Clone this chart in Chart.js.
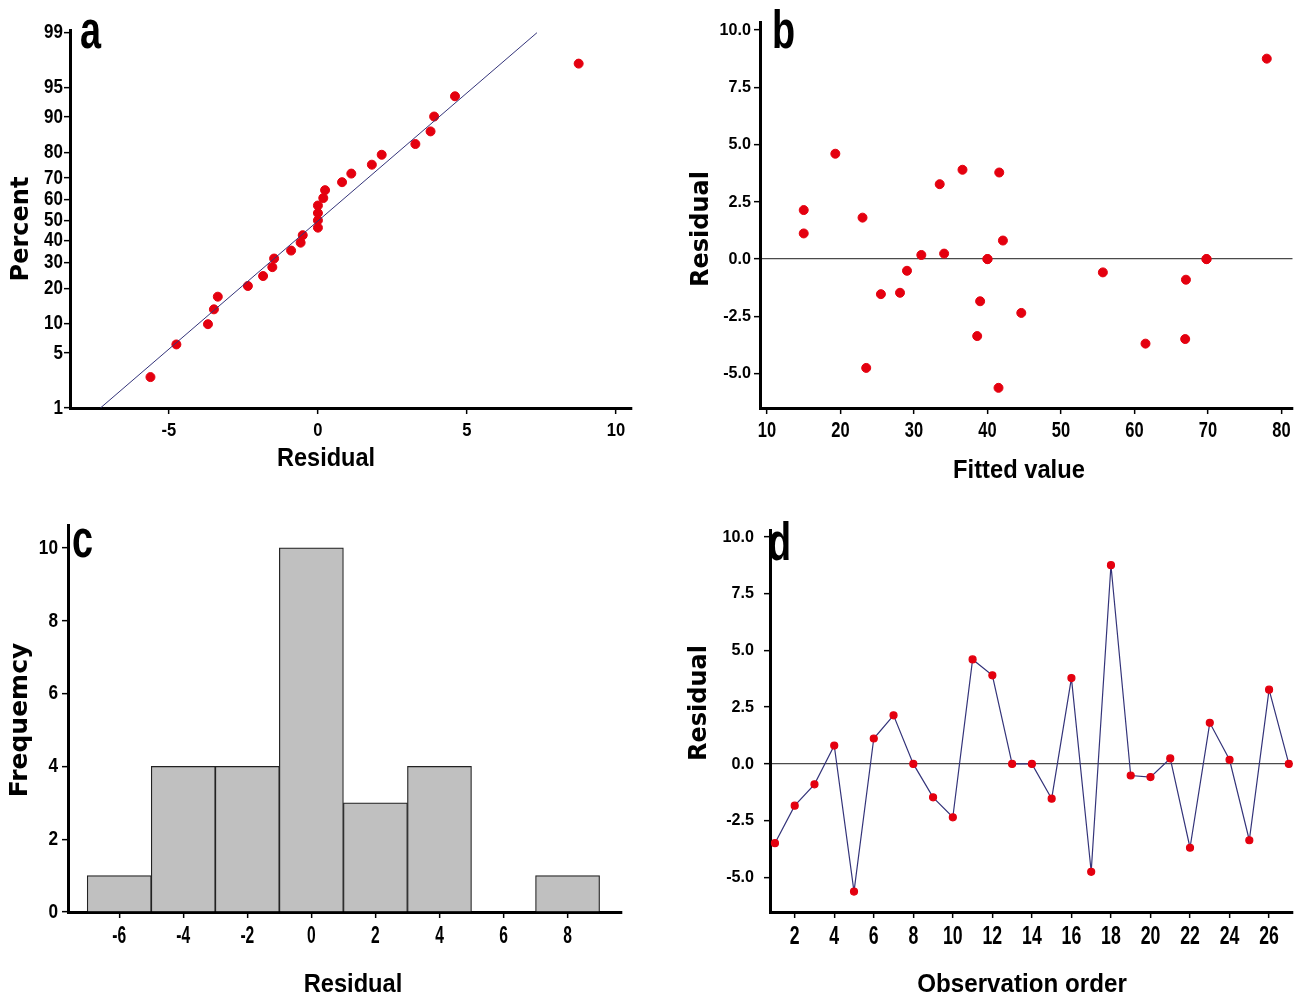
<!DOCTYPE html>
<html>
<head>
<meta charset="utf-8">
<title>Residual plots</title>
<script src="https://cdn.jsdelivr.net/npm/chart.js@4.4.0/dist/chart.umd.min.js"></script>
<style>
  body { margin: 0; background: #fff; }
  canvas { position: absolute; }
</style>
</head>
<body>
<canvas id="chartA" width="660" height="490" style="left:0;top:0"></canvas>
<canvas id="chartB" width="618" height="490" style="left:680px;top:0"></canvas>
<canvas id="chartC" width="660" height="498" style="left:0;top:500px"></canvas>
<canvas id="chartD" width="618" height="488" style="left:680px;top:510px"></canvas>
<script>
// residuals in run order, with the fitted value of each run
const observation = [1, 2, 3, 4, 5, 6, 7, 8, 9, 10, 11, 12, 13, 14, 15, 16, 17, 18, 19, 20, 21, 22, 23, 24, 25, 26, 27];
const residuals = [-3.49, -1.84, -0.9, 0.81, -5.62, 1.12, 2.14, 0.0, -1.47, -2.35, 4.6, 3.9, 0.0, 0.0, -1.53,
  3.78, -4.75, 8.75, -0.51, -0.58, 0.24, -3.69, 1.81, 0.18, -3.36, 3.27, 0.0];
const fittedValues = [66.9, 39.0, 67.0, 42.1, 41.5, 15.0, 15.0, 40.0, 28.1, 44.6, 19.3, 36.6, 40.0, 69.8, 25.5,
  41.6, 23.5, 78.0, 29.05, 55.7, 34.1, 61.5, 23.0, 31.0, 38.6, 33.5, 69.8];

// normal probability plot positions (percent) for the sorted residuals
const probPercent = [2.6, 6.2, 9.9, 13.5, 17.2, 20.8, 24.5, 28.1, 31.8, 35.4, 39.1, 42.7, 46.4, 50.0, 53.6,
  57.3, 60.9, 64.6, 68.2, 71.9, 75.5, 79.2, 82.8, 86.5, 90.1, 93.8, 97.4];
const fitLineX = [-7.3, 7.35];
const fitLinePercent = [1, 99];
const percentTicks = [1, 5, 10, 20, 30, 40, 50, 60, 70, 80, 90, 95, 99];

// histogram of residuals
const binCenters = [-6, -4, -2, 0, 2, 4, 6, 8];
const binCounts = [1, 4, 4, 10, 3, 4, 0, 1];

const residualTicksA = [-5, 0, 5, 10];
const fittedTicks = [10, 20, 30, 40, 50, 60, 70, 80];
const residualTicksB = [-5, -2.5, 0, 2.5, 5, 7.5, 10];
const histTicksX = [-6, -4, -2, 0, 2, 4, 6, 8];
const histTicksY = [0, 2, 4, 6, 8, 10];
const orderTicks = [2, 4, 6, 8, 10, 12, 14, 16, 18, 20, 22, 24, 26];

const SANS = "'Liberation Sans', Arial, sans-serif";
const WIDE = "'DejaVu Sans', Verdana, sans-serif";
const RED = '#e4000f';
const NAVY = '#34347a';

// inverse of the standard normal CDF (Acklam)
function normInv(p) {
  const a = [-3.969683028665376e+01, 2.209460984245205e+02, -2.759285104469687e+02, 1.383577518672690e+02, -3.066479806614716e+01, 2.506628277459239e+00];
  const b = [-5.447609879822406e+01, 1.615858368580409e+02, -1.556989798598866e+02, 6.680131188771972e+01, -1.328068155288572e+01];
  const c = [-7.784894002430293e-03, -3.223964580411365e-01, -2.400758277161838e+00, -2.549732539343734e+00, 4.374664141464968e+00, 2.938163982698783e+00];
  const d = [7.784695709041462e-03, 3.224671290700398e-01, 2.445134137142996e+00, 3.754408661907416e+00];
  const pl = 0.02425;
  if (p < pl) {
    const q = Math.sqrt(-2 * Math.log(p));
    return (((((c[0] * q + c[1]) * q + c[2]) * q + c[3]) * q + c[4]) * q + c[5]) / ((((d[0] * q + d[1]) * q + d[2]) * q + d[3]) * q + 1);
  }
  if (p > 1 - pl) {
    const q = Math.sqrt(-2 * Math.log(1 - p));
    return -(((((c[0] * q + c[1]) * q + c[2]) * q + c[3]) * q + c[4]) * q + c[5]) / ((((d[0] * q + d[1]) * q + d[2]) * q + d[3]) * q + 1);
  }
  const q = p - 0.5, r = q * q;
  return (((((a[0] * r + a[1]) * r + a[2]) * r + a[3]) * r + a[4]) * r + a[5]) * q /
    (((((b[0] * r + b[1]) * r + b[2]) * r + b[3]) * r + b[4]) * r + 1);
}

// axis with fixed ticks and fixed thickness; labels are drawn by the axisText plugin
function axis(o) {
  return {
    type: 'linear',
    min: o.min,
    max: o.max,
    offset: false,
    afterBuildTicks: s => { s.ticks = o.ticks.map(v => ({ value: v })); },
    afterFit: s => { if (s.isHorizontal()) s.height = o.size; else s.width = o.size; },
    border: { display: true, color: '#000', width: 3 },
    grid: {
      offset: false,
      drawOnChartArea: !!o.zeroLine,
      color: ctx => (o.zeroLine && ctx.tick && ctx.tick.value === 0) ? '#4a4a4a' : 'rgba(0,0,0,0)',
      lineWidth: 1.3,
      tickColor: '#000',
      tickWidth: 1.5,
      tickLength: 6
    },
    ticks: { display: false, autoSkip: false },
    title: { display: false }
  };
}

function drawText(ctx, text, x, y, font, sx, align, rot) {
  ctx.save();
  ctx.translate(x, y);
  if (rot) ctx.rotate(rot);
  ctx.scale(sx, 1);
  ctx.font = font;
  ctx.textAlign = align;
  ctx.fillText(text, 0, 0);
  ctx.restore();
}

// tick labels, axis titles and the panel letter, set in a narrow bold face
const axisText = {
  id: 'axisText',
  afterDraw(chart, args, o) {
    const ctx = chart.ctx;
    ctx.save();
    ctx.fillStyle = '#000';
    ctx.textBaseline = 'middle';
    const xs = chart.scales.x, ys = chart.scales.y;
    const xf = 'bold ' + o.xTicks.size + 'px ' + SANS;
    xs.ticks.forEach((t, i) => {
      drawText(ctx, o.xTicks.fmt(t.value, i), xs.getPixelForValue(t.value), o.xTicks.y, xf, o.xTicks.sx, 'center');
    });
    const yf = 'bold ' + o.yTicks.size + 'px ' + SANS;
    ys.ticks.forEach((t, i) => {
      drawText(ctx, o.yTicks.fmt(t.value, i), o.yTicks.right, ys.getPixelForValue(t.value), yf, o.yTicks.sx, 'right');
    });
    drawText(ctx, o.xTitle.text, o.xTitle.x, o.xTitle.y, 'bold ' + o.xTitle.size + 'px ' + SANS, o.xTitle.sx, 'center');
    drawText(ctx, o.yTitle.text, o.yTitle.x, o.yTitle.y, 'bold ' + o.yTitle.size + 'px ' + WIDE, 1, 'center', -Math.PI / 2);
    ctx.textBaseline = 'alphabetic';
    drawText(ctx, o.letter.text, o.letter.x, o.letter.y, 'bold 54px ' + SANS, 0.7, 'left');
    ctx.restore();
  }
};

const plain = v => String(v);
const oneDecimal = v => v.toFixed(1);

function baseOptions(pad, text) {
  return {
    responsive: false,
    animation: false,
    layout: { padding: pad },
    plugins: {
      legend: { display: false },
      tooltip: { enabled: false },
      axisText: text
    }
  };
}

// a: normal probability plot
const sortedResiduals = residuals.slice().sort((p, q) => p - q);
new Chart(document.getElementById('chartA'), {
  type: 'scatter',
  data: {
    datasets: [
      {
        type: 'line',
        data: fitLineX.map((x, i) => ({ x: x, y: normInv(fitLinePercent[i] / 100) })),
        borderColor: NAVY,
        borderWidth: 1,
        pointRadius: 0
      },
      {
        data: sortedResiduals.map((x, i) => ({ x: x, y: normInv(probPercent[i] / 100) })),
        backgroundColor: RED,
        borderColor: RED,
        pointRadius: 4.5
      }
    ]
  },
  options: Object.assign(baseOptions({ left: 0, top: 30, right: 28, bottom: 0 }, {
    xTicks: { y: 431, size: 18, sx: 0.92, fmt: plain },
    yTicks: { right: 63, size: 20, sx: 0.85, fmt: (v, i) => String(percentTicks[i]) },
    xTitle: { text: 'Residual', x: 326, y: 459, size: 25, sx: 0.94 },
    yTitle: { text: 'Percent', x: 22, y: 229, size: 24 },
    letter: { text: 'a', x: 80, y: 48 }
  }), {
    scales: {
      x: axis({ min: -8.32, max: 10.54, ticks: residualTicksA, size: 82 }),
      y: axis({ min: normInv(0.01), max: 2.36, ticks: percentTicks.map(p => normInv(p / 100)), size: 70 })
    }
  }),
  plugins: [axisText]
});

// b: residuals versus fitted values
new Chart(document.getElementById('chartB'), {
  type: 'scatter',
  data: {
    datasets: [{
      data: fittedValues.map((x, i) => ({ x: x, y: residuals[i] })),
      backgroundColor: RED,
      borderColor: RED,
      pointRadius: 4.5
    }]
  },
  options: Object.assign(baseOptions({ left: 0, top: 22, right: 0, bottom: 0 }, {
    xTicks: { y: 431, size: 22, sx: 0.75, fmt: plain },
    yTicks: { right: 71, size: 17, sx: 0.95, fmt: oneDecimal },
    xTitle: { text: 'Fitted value', x: 339, y: 471, size: 25.5, sx: 0.93 },
    yTitle: { text: 'Residual', x: 22, y: 229, size: 24 },
    letter: { text: 'b', x: 92, y: 48 }
  }), {
    scales: {
      x: axis({ min: 9.05, max: 81.5, ticks: fittedTicks, size: 82 }),
      y: axis({ min: -6.5, max: 10.35, ticks: residualTicksB, size: 80, zeroLine: true })
    }
  }),
  plugins: [axisText]
});

// c: histogram of residuals
new Chart(document.getElementById('chartC'), {
  type: 'bar',
  data: {
    datasets: [{
      data: binCenters.map((x, i) => ({ x: x, y: binCounts[i] })),
      backgroundColor: '#c0c0c0',
      borderColor: '#222',
      borderWidth: 1.2,
      categoryPercentage: 1,
      barPercentage: 1
    }]
  },
  options: Object.assign(baseOptions({ left: 0, top: 25, right: 38, bottom: 0 }, {
    xTicks: { y: 436, size: 24, sx: 0.65, fmt: plain },
    yTicks: { right: 58, size: 21, sx: 0.82, fmt: plain },
    xTitle: { text: 'Residual', x: 353, y: 485, size: 26, sx: 0.91 },
    yTitle: { text: 'Frequemcy', x: 20, y: 220, size: 25 },
    letter: { text: 'c', x: 72, y: 57 }
  }), {
    scales: {
      x: axis({ min: -7.6, max: 9.7, ticks: histTicksX, size: 86 }),
      y: axis({ min: 0, max: 10.63, ticks: histTicksY, size: 68 })
    }
  }),
  plugins: [axisText]
});

// d: residuals versus observation order
new Chart(document.getElementById('chartD'), {
  type: 'line',
  data: {
    datasets: [{
      data: observation.map((x, i) => ({ x: x, y: residuals[i] })),
      borderColor: NAVY,
      borderWidth: 1.2,
      pointBackgroundColor: RED,
      pointBorderColor: RED,
      pointRadius: 3.5,
      tension: 0,
      fill: false
    }]
  },
  options: Object.assign(baseOptions({ left: 0, top: 20, right: 0, bottom: 0 }, {
    xTicks: { y: 427, size: 26, sx: 0.68, fmt: plain },
    yTicks: { right: 74, size: 17, sx: 0.95, fmt: oneDecimal },
    xTitle: { text: 'Observation order', x: 342, y: 475, size: 26, sx: 0.93 },
    yTitle: { text: 'Residual', x: 20, y: 193, size: 24 },
    letter: { text: 'd', x: 88, y: 50 }
  }), {
    scales: {
      x: axis({ min: 0.75, max: 27.2, ticks: orderTicks, size: 86 }),
      y: axis({ min: -6.52, max: 10.3, ticks: residualTicksB, size: 90, zeroLine: true })
    }
  }),
  plugins: [axisText]
});
</script>
</body>
</html>
